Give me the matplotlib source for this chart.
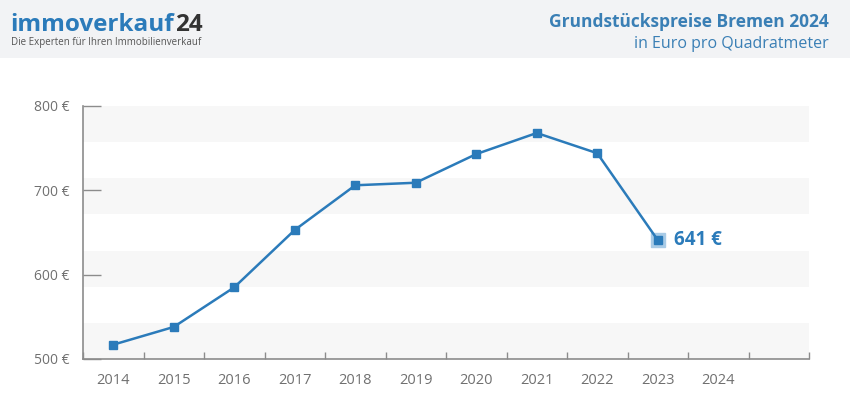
import matplotlib
matplotlib.use("Agg")
import matplotlib.pyplot as plt
import matplotlib.patches as mpatches

plt.rcParams['font.family'] = ['Open Sans', 'DejaVu Sans']

# data
years = ['2014', '2015', '2016', '2017', '2018', '2019', '2020', '2021', '2022', '2023', '2024']
prices = [517, 538, 585, 653, 706, 709, 743, 768, 744, 641]
y_ticks = [500, 600, 700, 800]

blue = '#2b7bba'
grey_txt = '#707070'
axis_col = '#8c8c8c'

fig = plt.figure(figsize=(8.5, 4.17), dpi=100)

# header band
fig.patches.append(mpatches.Rectangle((0, 1 - 58 / 417), 1, 58 / 417, transform=fig.transFigure,
                                      facecolor='#f2f3f5', edgecolor='none', zorder=0))
logo = fig.text(10 / 850, 1 - 31 / 417, 'immoverkauf', color=blue, fontsize=17.5, fontweight='bold',
                va='baseline', ha='left')
# "24" right after the logo word
fig.canvas.draw()
bb = logo.get_window_extent()
fig.text((bb.x1 + 1) / 850, 1 - 31 / 417, '24', color='#333333', fontsize=17.5, fontweight='bold',
         va='baseline', ha='left')
fig.text(11 / 850, 1 - 43 / 417, 'Die Experten für Ihren Immobilienverkauf', color='#555555',
         fontsize=7, va='center', ha='left')
fig.text(829 / 850, 1 - 22 / 417, 'Grundstückspreise Bremen 2024', color='#3a7fb5', fontsize=12.5,
         fontweight='bold', va='center', ha='right')
fig.text(829 / 850, 1 - 44 / 417, 'in Euro pro Quadratmeter', color='#3a7fb5', fontsize=11.5,
         va='center', ha='right')

ax = fig.add_axes([83 / 850, 58 / 417, 726 / 850, 253 / 417])
ax.set_xlim(-0.5, 11.5)
ax.set_ylim(500, 800)

# alternating bands
for i in range(0, 7, 2):
    ax.axhspan(500 + i * 300 / 7, 500 + (i + 1) * 300 / 7, color='#f7f7f7', lw=0, zorder=0)

x = list(range(len(prices)))
ax.plot(x, prices, color=blue, lw=1.8, marker='s', markersize=5.5, zorder=3)
ax.plot(x[-1], prices[-1], marker='s', markersize=10, color='#a9cbe6', lw=0, zorder=2)
ax.annotate(f'{prices[-1]} €', (x[-1], prices[-1]), xytext=(12, 0), textcoords='offset points',
            color=blue, fontsize=13.5, fontweight='bold', va='center', ha='left')

for s in ['top', 'right']:
    ax.spines[s].set_visible(False)
for s in ['left', 'bottom']:
    ax.spines[s].set_color(axis_col)
    ax.spines[s].set_linewidth(1.2)

ax.set_yticks(y_ticks)
ax.set_yticklabels([f'{v} €' for v in y_ticks])
ax.tick_params(axis='y', direction='in', length=13, width=1, color=axis_col, pad=10,
               labelsize=10, labelcolor=grey_txt)

ax.set_xticks(range(len(years)))
ax.set_xticklabels(years)
ax.tick_params(axis='x', which='major', length=0, pad=10, labelsize=10.5, labelcolor=grey_txt)
ax.set_xticks([i + 0.5 for i in range(-1, 12)], minor=True)
ax.tick_params(axis='x', which='minor', direction='in', length=5, width=1, color=axis_col)

fig.savefig('out.png', dpi=100)
